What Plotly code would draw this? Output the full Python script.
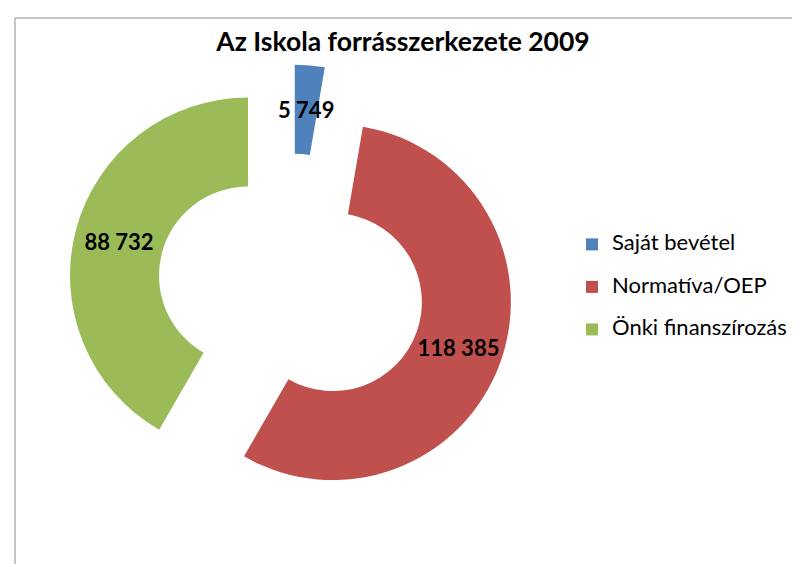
import math
import plotly.graph_objects as go

title_text = "Az Iskola forrásszerkezete 2009"
categories = ["Saját bevétel", "Normatíva/OEP", "Önki finanszírozás"]
values = [5749, 118385, 88732]
colors = ["#4F81BD", "#C0504D", "#9BBB59"]

W, H = 800, 564
PULL = 0.25
HOLE = 0.5
FONT = "Lato, sans-serif"

# pie domain (pixels) -> paper
cx_px, cy_px, half = 283.0, 279.0, 222.5
dom_x = [(cx_px - half) / W, (cx_px + half) / W]
dom_y = [1 - (cy_px + half) / H, 1 - (cy_px - half) / H]

# legend labels: styled larger text + empty second line (for item spacing)
legend_labels = [f"<span style='font-size:22px'>{c}</span><br> " for c in categories]

# the thin first slice gets its label placed at the ring middle (computed from the data)
total = sum(values)
r_px = half / (1 + PULL)
theta = math.radians(360 * (values[0] / 2) / total)
dist = PULL * r_px + r_px * (1 + HOLE) / 2
lab_x = cx_px + dist * math.sin(theta)
lab_y = cy_px - dist * math.cos(theta)

fig = go.Figure(go.Pie(
    labels=legend_labels,
    values=values,
    marker=dict(colors=colors, line=dict(width=0)),
    hole=HOLE,
    pull=[PULL] * len(values),
    sort=False,
    direction="clockwise",
    rotation=0,
    textposition="inside",
    insidetextorientation="horizontal",
    texttemplate=[""] + ["%{value:,}"] * (len(values) - 1),
    textfont=dict(family=FONT, size=22, color="black", weight="bold"),
    hoverinfo="label+value",
    domain=dict(x=dom_x, y=dom_y),
))

fig.update_layout(
    width=W, height=H,
    margin=dict(l=0, r=0, t=0, b=0),
    paper_bgcolor="white",
    separators=", ",
    uniformtext=dict(minsize=22, mode="show"),
    title=dict(text=f"<b>{title_text}</b>", x=395 / W, xanchor="center",
               y=1 - 34 / H, yanchor="middle",
               font=dict(family=FONT, size=26.5, color="black")),
    legend=dict(x=564 / W, y=1 - 220 / H, xanchor="left", yanchor="top",
                valign="top", font=dict(family=FONT, size=15.2, color="black"),
                bgcolor="rgba(0,0,0,0)"),
    annotations=[dict(x=lab_x / W, y=1 - lab_y / H, xref="paper", yref="paper",
                      text=f"<b>{values[0]:,}</b>".replace(",", " "), showarrow=False,
                      xanchor="center", yanchor="middle",
                      font=dict(family=FONT, size=22, color="black"))],
    shapes=[dict(type="rect", xref="paper", yref="paper",
                 x0=7 / W, x1=1.05, y0=-0.05, y1=1 - 10 / H,
                 line=dict(color="#8c8c8c", width=1), fillcolor="rgba(0,0,0,0)")],
)

fig.write_html("out.html")
